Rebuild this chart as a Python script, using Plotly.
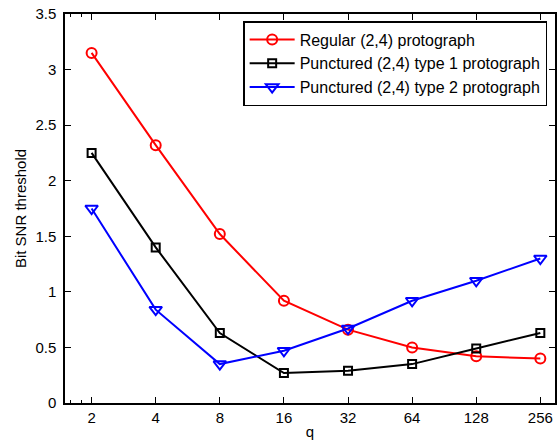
import math
import plotly.graph_objects as go

q = [2, 4, 8, 16, 32, 64, 128, 256]
regular = [3.15, 2.32, 1.52, 0.92, 0.66, 0.50, 0.42, 0.40]
punct1 = [2.25, 1.40, 0.63, 0.27, 0.29, 0.35, 0.49, 0.63]
punct2 = [1.75, 0.84, 0.35, 0.47, 0.67, 0.92, 1.10, 1.30]
names = ["Regular (2,4) protograph",
         "Punctured (2,4) type 1 protograph",
         "Punctured (2,4) type 2 protograph"]
yticks = [0, 0.5, 1, 1.5, 2, 2.5, 3, 3.5]
ytick_text = ["0", "0.5", "1", "1.5", "2", "2.5", "3", "3.5"]
xminor = [1.6, 1.8]

FONT = "Liberation Sans, Arial, Helvetica, sans-serif"

fig = go.Figure()
fig.add_trace(go.Scatter(x=q, y=regular, name=names[0], mode="lines+markers",
                         line=dict(color="#ff0000", width=2),
                         marker=dict(symbol="circle-open", size=10, color="#ff0000",
                                     line=dict(width=2, color="#ff0000"))))
fig.add_trace(go.Scatter(x=q, y=punct1, name=names[1], mode="lines+markers",
                         line=dict(color="#000000", width=2),
                         marker=dict(symbol="square-open", size=8, color="#000000",
                                     line=dict(width=2, color="#000000"))))
fig.add_trace(go.Scatter(x=q, y=punct2, name=names[2], mode="lines+markers",
                         line=dict(color="#0000ff", width=2),
                         marker=dict(symbol="triangle-down-open", size=11, color="#0000ff",
                                     line=dict(width=2, color="#0000ff"))))

fig.update_layout(
    width=559, height=443,
    margin=dict(l=65, r=2, t=14, b=40),
    paper_bgcolor="white", plot_bgcolor="white",
    font=dict(family=FONT, size=15, color="black"),
    showlegend=True,
    legend=dict(x=0.984, y=0.982, xanchor="right", yanchor="top",
                bgcolor="white", bordercolor="black", borderwidth=1.5,
                font=dict(family=FONT, size=16, color="black"),
                itemwidth=45, tracegroupgap=0),
    xaxis=dict(type="log", range=[math.log10(1.5), math.log10(300)],
               tickvals=q, ticktext=[str(v) for v in q],
               ticks="inside", ticklen=6, tickwidth=1, tickcolor="black",
               showline=True, linecolor="black", linewidth=1.5, mirror="ticks",
               showgrid=False, zeroline=False,
               tickfont=dict(size=15),
               minor=dict(tickvals=xminor, ticks="inside", ticklen=3,
                          tickcolor="black", tickwidth=1, showgrid=False),
               title=dict(text="q", standoff=2, font=dict(size=15))),
    yaxis=dict(range=[0, 3.5], tickvals=yticks, ticktext=ytick_text,
               ticks="inside", ticklen=6, tickwidth=1, tickcolor="black",
               showline=True, linecolor="black", linewidth=1.5, mirror="ticks",
               showgrid=False, zeroline=False, ticklabelstandoff=4,
               tickfont=dict(size=15),
               title=dict(text="Bit SNR threshold", standoff=5, font=dict(size=15))),
)

fig.write_html("out.html", config={"displayModeBar": False},
               post_script="document.body.style.margin='0';document.body.style.overflow='hidden';")
